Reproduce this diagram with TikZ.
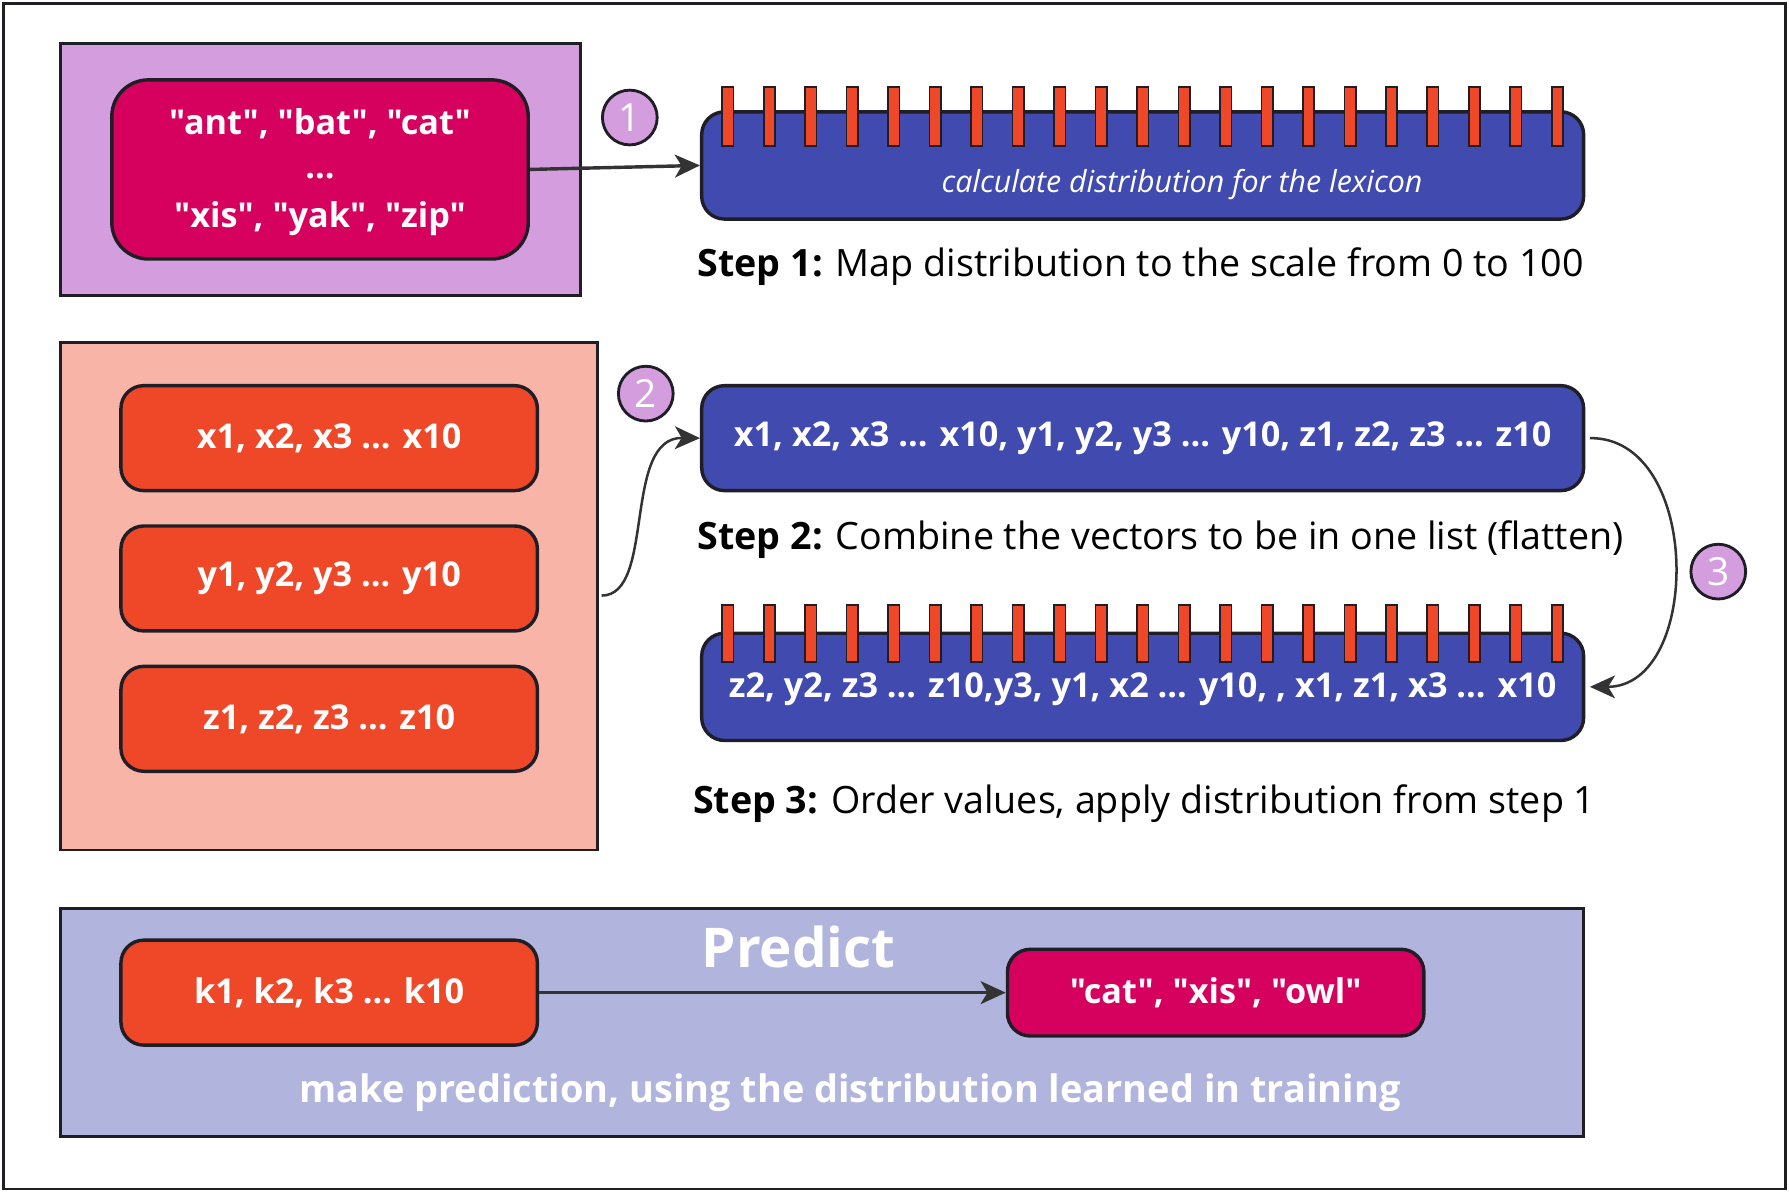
\documentclass[tikz,border=0pt]{standalone}
\usepackage{fontspec}
\setmainfont{Open Sans}[Ligatures=TeXOff]
\usetikzlibrary{arrows.meta}
\newcommand{\dq}{\symbol{34}}
\definecolor{lav}{HTML}{D49EDE}
\definecolor{mag}{HTML}{D6005F}
\definecolor{salm}{HTML}{F9B4A8}
\definecolor{ora}{HTML}{EF4829}
\definecolor{blu}{HTML}{404AAF}
\definecolor{peri}{HTML}{B1B5DE}
\definecolor{dk}{HTML}{1F1E26}
\definecolor{arr}{HTML}{333333}
\tikzset{
  x=0.5pt, y=-0.5pt,
  panel/.style={draw=dk, line width=1.25pt, inner sep=0pt},
  rbox/.style={draw=dk, line width=1.5pt, rounded corners=10pt, inner sep=0pt, text=white, font=\fontsize{15}{18}\selectfont\bfseries, align=center},
  bluebox/.style={rbox, fill=blu, minimum width=386.5pt, minimum height=46pt},
  orbox/.style={rbox, fill=ora, minimum width=182.5pt, minimum height=46pt},
  num/.style={circle, draw=dk, line width=1.25pt, fill=lav, minimum size=24pt, inner sep=0pt, text=white, font=\fontsize{17}{20}\selectfont},
  tick/.style={draw=dk, line width=0.7pt, fill=ora},
  conn/.style={draw=arr, line width=1.5pt, -{Stealth[length=11pt,width=10pt,inset=3pt]}},
  steptxt/.style={anchor=west, inner sep=0pt, font=\fontsize{16.5}{20}\selectfont, text=black},
  wtxt/.style={text=white, font=\fontsize{15}{18}\selectfont\bfseries},
}
\begin{document}
\begin{tikzpicture}
\useasboundingbox (0,0) rectangle (1568,1045);
% outer frame
\draw[draw=dk, line width=1pt] (3,3) rectangle (1565,1042);

% ---- top section
\node[panel, fill=lav, minimum width=228pt, minimum height=110.5pt] (lexpanel) at (281,148.5) {};
\node[rbox, fill=mag, rounded corners=16pt, minimum width=182.5pt, minimum height=78.5pt] (lex) at (280.5,148.5) {};
\node[wtxt] (lexa) at (280.5,108) {\dq ant\dq, \dq bat\dq, \dq cat\dq};
\node[wtxt] (lexb) at (280.5,154) {...};
\node[wtxt] (lexc) at (280.5,192) {\dq xis\dq, \dq yak\dq, \dq zip\dq};
\node[num] (c1) at (552,103) {1};
\node[bluebox, minimum height=47pt] (b1) at (1001.5,145) {};
\foreach \i in {0,...,20} {
  \pgfmathsetmacro{\tx}{638+36.35*\i}
  \draw[tick] (\tx-5,76) rectangle (\tx+5,128);
}
\node[text=white, font=\fontsize{13.3}{16}\selectfont\itshape] (b1t) at (1036,162) {calculate distribution for the lexicon};
\node[steptxt] (s1) at (611,234) {\textbf{Step 1:} Map distribution to the scale from 0 to 100};
\draw[conn] (lex.east) -- (b1.west);

% ---- middle section
\node[panel, fill=salm, minimum width=235.5pt, minimum height=222.5pt] (vecpanel) at (288.5,522.5) {};
\node[orbox] (xv) at (288.5,384) {x1, x2, x3 ... x10};
\node[orbox] (yv) at (288.5,507) {y1, y2, y3 ... y10};
\node[orbox] (zv) at (288.5,630) {z1, z2, z3 ... z10};
\node[num] (c2) at (566,345) {2};
\node[bluebox] (b2) at (1001.5,384) {x1, x2, x3 ... x10, y1, y2, y3 ... y10, z1, z2, z3 ... z10};
\node[steptxt] (s2) at (611,473) {\textbf{Step 2:} Combine the vectors to be in one list (flatten)};
\node[bluebox, minimum height=47pt] (b3) at (1001.5,602) {};
\foreach \i in {0,...,20} {
  \pgfmathsetmacro{\tx}{638+36.35*\i}
  \draw[tick] (\tx-5,530) rectangle (\tx+5,580);
}
\node[wtxt] (b3t) at (1001.5,604) {z2, y2, z3 ... z10,y3, y1, x2 ... y10, , x1, z1, x3 ... x10};
\node[num] (c3) at (1506,501) {3};
\node[steptxt] (s3) at (607,704) {\textbf{Step 3:} Order values, apply distribution from step 1};
\coordinate (v2s) at (vecpanel.east |- 0,522);
\draw[conn, line width=1.1pt] ([xshift=1pt]v2s) .. controls (575,522) and (545,383) .. (b2.west);
\draw[conn, line width=1.1pt] ([xshift=2pt]b2.east) .. controls (1492,383) and (1492,602) .. ([xshift=2pt]b3.east);

% ---- bottom section
\node[panel, fill=peri, minimum width=667.5pt, minimum height=100pt] (predpanel) at (720.5,896) {};
\node[text=white, font=\fontsize{24}{28}\selectfont\bfseries] (predt) at (700,830) {Predict};
\node[orbox] (kv) at (288.5,870) {k1, k2, k3 ... k10};
\node[rbox, fill=mag, minimum width=182.5pt, minimum height=38pt] (outv) at (1065.5,870) {\dq cat\dq, \dq xis\dq, \dq owl\dq};
\draw[conn] (kv.east) -- (outv.west);
\node[text=white, font=\fontsize{16.6}{20}\selectfont\bfseries] (mk) at (745,958) {make prediction, using the distribution learned in training};
\end{tikzpicture}
\end{document}
